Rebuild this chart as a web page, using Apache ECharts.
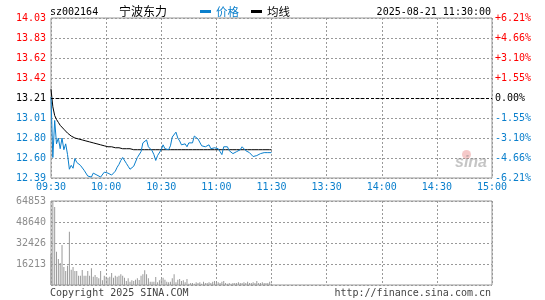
<!DOCTYPE html>
<html>
<head>
<meta charset="utf-8">
<script src="https://cdn.jsdelivr.net/npm/echarts@6/dist/echarts.min.js"></script>
<style>html,body{margin:0;padding:0;background:#fff;}#c{width:545px;height:300px;}</style>
</head>
<body>
<div id="c"></div>
<script>
const stockCode = 'sz002164';
const stockName = '宁波东力';
const stamp = '2025-08-21 11:30:00';
const prevClose = 13.21;
const priceMin = 12.39;
const priceMax = 14.03;
const volMax = 64853;

const priceTicks = ['12.39','12.60','12.80','13.01','13.21','13.42','13.62','13.83','14.03'];
const pctTicks = ['-6.21%','-4.66%','-3.10%','-1.55%','0.00%','+1.55%','+3.10%','+4.66%','+6.21%'];
const volTicks = ['', '16213', '32426', '48640', '64853'];
const timeLabels = ['09:30','10:00','10:30','11:00','11:30','13:30','14:00','14:30','15:00'];

const price = [
13.22,12.60,12.98,12.74,12.80,12.69,12.80,12.68,12.74,12.63,
12.48,12.52,12.49,12.59,12.55,12.57,12.52,12.54,12.47,12.46,
12.41,12.39,12.40,12.44,12.45,12.42,12.44,12.40,12.42,12.45,
12.46,12.44,12.42,12.42,12.44,12.46,12.50,12.53,12.57,12.60,
12.58,12.54,12.51,12.48,12.50,12.51,12.52,12.60,12.58,12.66,
12.75,12.73,12.78,12.71,12.69,12.67,12.63,12.57,12.62,12.62,
12.68,12.73,12.69,12.70,12.68,12.72,12.81,12.83,12.86,12.80,
12.77,12.73,12.75,12.74,12.71,12.75,12.74,12.75,12.82,12.80,
12.79,12.78,12.72,12.71,12.71,12.71,12.73,12.69,12.70,12.70,
12.69,12.69,12.66,12.63,12.71,12.71,12.71,12.67,12.66,12.64,
12.65,12.66,12.68,12.68,12.71,12.70,12.67,12.66,12.65,12.63,
12.61,12.59,12.62,12.63,12.64,12.66,12.65,12.66,12.65,12.65,
12.65
];

const avgPrice = [
13.30,13.12,13.03,12.99,12.96,12.93,12.91,12.89,12.87,12.85,
12.83,12.82,12.81,12.80,12.80,12.79,12.79,12.78,12.78,12.77,
12.76,12.76,12.75,12.75,12.74,12.74,12.73,12.73,12.72,12.72,
12.72,12.71,12.71,12.71,12.70,12.70,12.70,12.70,12.69,12.69,
12.69,12.69,12.69,12.69,12.69,12.68,12.68,12.68,12.68,12.68,
12.68,12.68,12.68,12.68,12.68,12.68,12.68,12.68,12.68,12.68,
12.68,12.68,12.68,12.68,12.68,12.68,12.68,12.68,12.68,12.68,
12.68,12.68,12.68,12.68,12.68,12.68,12.68,12.68,12.68,12.68,
12.68,12.68,12.68,12.68,12.68,12.68,12.68,12.68,12.68,12.68,
12.68,12.68,12.68,12.68,12.68,12.68,12.68,12.68,12.68,12.68,
12.68,12.68,12.68,12.68,12.68,12.68,12.68,12.68,12.68,12.68,
12.68,12.68,12.68,12.68,12.68,12.68,12.68,12.68,12.68,12.68,
12.68
];

const volume = [
23934,64853,60220,25735,20073,16985,30883,13897,10809,14926,
41177,11838,13897,10809,10809,7206,7206,11581,7206,7206,
10809,7206,12868,6434,7721,6176,5147,10809,3603,7206,
6434,5662,6434,9265,5662,7206,6434,7206,8235,7206,
5662,3088,5147,2574,3603,3088,4118,5147,3860,7206,
8235,11323,8235,5147,2574,2574,2574,6176,2059,3603,
4632,5662,4118,2574,2059,2574,5147,8235,2059,4118,
4632,3088,3603,2059,4632,1029,1544,1544,1029,2059,
1544,2059,1029,2574,1544,1544,2059,1544,2574,3088,
2059,2059,1544,2574,3088,1544,1029,1544,1029,1544,
1544,1544,2059,1544,1544,2059,1544,2574,1544,1544,
2059,1544,3088,1544,1544,2059,1544,1544,1544,2574,
1029
];

// time categories of the trading day (241 minutes)
const times = [];
function pushRange(h0, m0, h1, m1) {
  let h = h0, m = m0;
  while (h < h1 || (h === h1 && m <= m1)) {
    times.push(String(h).padStart(2, '0') + ':' + String(m).padStart(2, '0'));
    m++; if (m === 60) { m = 0; h++; }
  }
}
pushRange(9, 30, 11, 30);
pushRange(13, 1, 15, 0);

const MONO = '"DejaVu Sans Mono", "Liberation Mono", monospace';
const CJK = '"Noto Sans CJK SC", sans-serif';
const BLUE = '#0a7fcc';
const RED = '#ff0000';
const STEP = 30;
function gridLine(extra) {
  return Object.assign({ show: true, lineStyle: { color: '#999999', type: [2, 2], width: 1, opacity: 1 } }, extra || {});
}
function labelColor(idx) {
  if (idx < 4) return BLUE;
  if (idx === 4) return '#000';
  return RED;
}
function caption(text, pos, style) {
  return Object.assign({ text: text, padding: 0, itemGap: 0, textStyle: Object.assign({ fontWeight: 'normal' }, style) }, pos);
}

const chart = echarts.init(document.getElementById('c'), null, { renderer: 'canvas' });

chart.setOption({
  animation: false,
  backgroundColor: '#fff',
  title: [
    caption(stockCode, { left: 50, top: 6 }, { fontFamily: MONO, fontSize: 10, color: '#000', lineHeight: 12 }),
    caption(stockName, { left: 119, top: 4 }, { fontFamily: CJK, fontSize: 12, color: '#000', lineHeight: 15 }),
    caption('{bd|}{bt|价格}{kd|}{kt|均线}', { left: 200, top: 4 }, {
      lineHeight: 15,
      rich: {
        bd: { width: 11, height: 3, backgroundColor: BLUE, verticalAlign: 'middle' },
        bt: { color: BLUE, fontFamily: CJK, fontSize: 11.5, fontWeight: 'normal', padding: [0, 12, 0, 5], verticalAlign: 'middle' },
        kd: { width: 11, height: 3, backgroundColor: '#000', verticalAlign: 'middle' },
        kt: { color: '#000', fontFamily: CJK, fontSize: 11.5, fontWeight: 'normal', padding: [0, 0, 0, 5], verticalAlign: 'middle' }
      }
    }),
    caption(stamp, { right: 54, top: 6 }, { fontFamily: MONO, fontSize: 10, color: '#000', lineHeight: 12 }),
    caption('Copyright 2025 SINA.COM', { left: 50, top: 287 }, { fontFamily: MONO, fontSize: 10, color: '#444', lineHeight: 12 }),
    caption('http://finance.sina.com.cn', { right: 54, top: 287 }, { fontFamily: MONO, fontSize: 10, color: '#444', lineHeight: 12 }),
    caption('{e|}', { left: 462, top: 150 }, { rich: { e: { width: 9, height: 9, borderRadius: 5, backgroundColor: 'rgba(230,120,120,0.4)' } } }),
    caption('sina', { left: 455, top: 155 }, { fontFamily: '"Liberation Sans", sans-serif', fontSize: 16, fontStyle: 'italic', fontWeight: 'bold', color: 'rgba(140,140,140,0.5)', lineHeight: 16 })
  ],
  grid: [
    { left: 51, top: 18, width: 441, height: 160, show: true, borderColor: '#999', borderWidth: 1 },
    { left: 51, top: 201, width: 441, height: 84, show: true, borderColor: '#999', borderWidth: 1 }
  ],
  xAxis: [
    {
      type: 'category', gridIndex: 0, data: times, boundaryGap: false,
      axisLine: { show: false }, axisTick: { show: false },
      axisLabel: {
        interval: STEP - 1, color: BLUE, fontFamily: MONO, fontSize: 10, margin: 4,
        showMinLabel: true, showMaxLabel: true,
        formatter: (v, i) => timeLabels[Math.round(i / STEP)]
      },
      splitLine: gridLine({ interval: STEP - 1 })
    },
    {
      type: 'category', gridIndex: 1, data: times, boundaryGap: false,
      axisLine: { show: false }, axisTick: { show: false }, axisLabel: { show: false },
      splitLine: gridLine({ interval: STEP - 1 })
    }
  ],
  yAxis: [
    { type: 'value', gridIndex: 0, min: priceMin, max: priceMax, show: false, splitLine: { show: false } },
    {
      type: 'value', gridIndex: 0, min: 0, max: priceTicks.length - 1, interval: 1, position: 'left',
      axisLine: { show: false }, axisTick: { show: false },
      axisLabel: {
        fontFamily: MONO, fontSize: 10, margin: 5,
        formatter: v => priceTicks[v],
        color: v => labelColor(Number(v))
      },
      splitLine: gridLine()
    },
    {
      type: 'value', gridIndex: 0, min: 0, max: pctTicks.length - 1, interval: 1, position: 'right',
      axisLine: { show: false }, axisTick: { show: false },
      axisLabel: {
        fontFamily: MONO, fontSize: 10, margin: 3,
        formatter: v => pctTicks[v],
        color: v => labelColor(Number(v))
      },
      splitLine: { show: false }
    },
    { type: 'value', gridIndex: 1, min: 0, max: volMax, show: false, splitLine: { show: false } },
    {
      type: 'value', gridIndex: 1, min: 0, max: volTicks.length - 1, interval: 1, position: 'left',
      axisLine: { show: false }, axisTick: { show: false },
      axisLabel: { fontFamily: MONO, fontSize: 10, margin: 5, color: '#8c8c8c', formatter: v => volTicks[v] },
      splitLine: gridLine()
    }
  ],
  series: [
    {
      name: '均线', type: 'line', xAxisIndex: 0, yAxisIndex: 0, data: avgPrice,
      showSymbol: false, symbol: 'none', lineStyle: { color: '#000', width: 1 }, itemStyle: { color: '#000' }
    },
    {
      name: '价格', type: 'line', xAxisIndex: 0, yAxisIndex: 0, data: price,
      showSymbol: false, symbol: 'none', lineStyle: { color: BLUE, width: 1 }, itemStyle: { color: BLUE },
      markLine: {
        silent: true, symbol: 'none', label: { show: false },
        lineStyle: { color: '#000', type: [3, 2], width: 1 },
        data: [{ yAxis: prevClose }]
      }
    },
    {
      name: '成交量', type: 'bar', xAxisIndex: 1, yAxisIndex: 3, data: volume,
      barWidth: 1, itemStyle: { color: '#9a9a9a' }
    }
  ]
});
</script>
</body>
</html>
